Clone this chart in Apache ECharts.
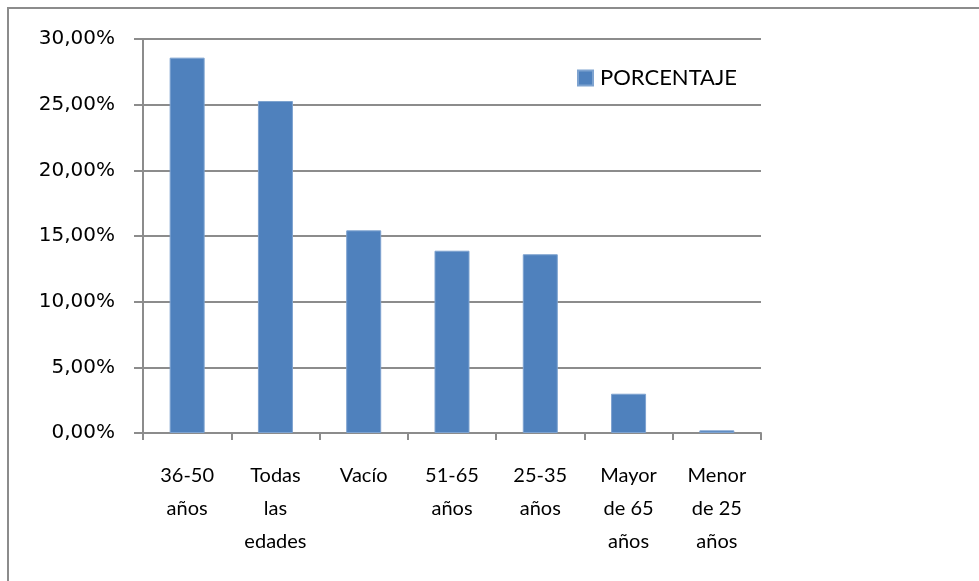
<!DOCTYPE html>
<html>
<head>
<meta charset="utf-8">
<script src="https://cdn.jsdelivr.net/npm/echarts@6/dist/echarts.min.js"></script>
<style>
  html, body { margin: 0; padding: 0; background: #fff; }
  #chart { width: 979px; height: 581px; }
</style>
</head>
<body>
<div id="chart"></div>
<script>
  var categories = ['36-50\naños', 'Todas\nlas\nedades', 'Vacío', '51-65\naños', '25-35\naños', 'Mayor\nde 65\naños', 'Menor\nde 25\naños']
  var porcentaje = [28.58, 25.28, 15.43, 13.88, 13.61, 2.99, 0.2]
  var yTicks = [0, 5, 10, 15, 20, 25, 30]

  var myChart = echarts.init(document.getElementById('chart'))
  var font = 'Lato, "Liberation Sans", sans-serif'

  var option = {
    animation: false,
    graphic: [{
      type: 'rect',
      shape: { x: 8, y: 8, width: 1200, height: 800 },
      style: { fill: 'none', stroke: '#8c8c8c', lineWidth: 2 },
      silent: true
    }],
    legend: {
      data: ['PORCENTAJE'],
      left: 577,
      top: 67,
      padding: 0,
      itemWidth: 15,
      itemHeight: 15,
      itemGap: 7,
      icon: 'rect',
      textStyle: { fontFamily: font, fontSize: 22, color: '#000', padding: [0, 0, 0, 2] }
    },
    grid: {
      left: 143,
      right: 218,
      top: 39,
      bottom: 148
    },
    xAxis: {
      type: 'category',
      data: categories,
      axisLine: { show: true, lineStyle: { color: '#8c8c8c', width: 2 } },
      axisTick: { show: true, length: 7, alignWithLabel: false, lineStyle: { color: '#8c8c8c', width: 2 } },
      axisLabel: {
        interval: 0,
        margin: 26,
        fontFamily: font,
        fontSize: 20,
        lineHeight: 33,
        color: '#000'
      }
    },
    yAxis: {
      type: 'value',
      min: yTicks[0],
      max: yTicks[yTicks.length - 1],
      interval: 5,
      axisLine: { show: true, lineStyle: { color: '#8c8c8c', width: 2 } },
      axisTick: { show: true, length: 9, lineStyle: { color: '#8c8c8c', width: 2 } },
      splitLine: { show: true, lineStyle: { color: '#8c8c8c', width: 2 } },
      axisLabel: {
        margin: 28,
        fontFamily: '"DejaVu Sans", sans-serif',
        fontSize: 20,
        color: '#000',
        formatter: function (v) {
          return v.toFixed(2).replace('.', ',') + '%'
        }
      }
    },
    series: [{
      name: 'PORCENTAJE',
      type: 'bar',
      data: porcentaje,
      barWidth: 35,
      itemStyle: { color: '#4f81bd', borderColor: '#7ea3d0', borderWidth: 1 }
    }]
  }
  myChart.setOption(option)
</script>
</body>
</html>
